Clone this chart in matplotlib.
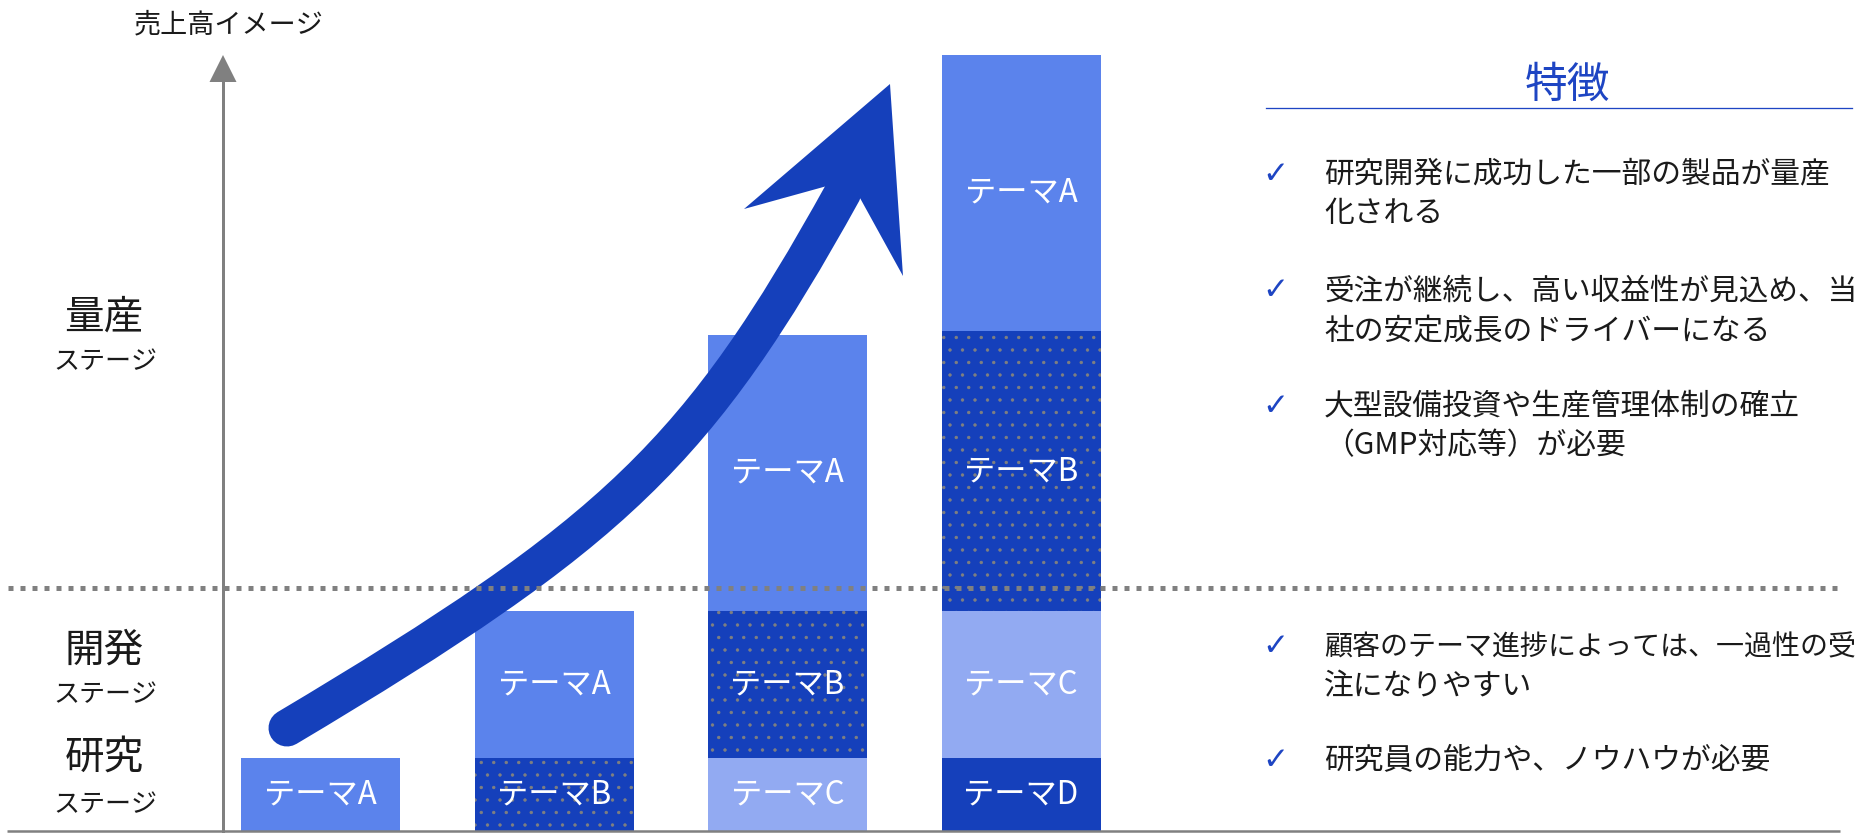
import numpy as np
import matplotlib
matplotlib.use("Agg")
import matplotlib.pyplot as plt
from matplotlib.path import Path
from matplotlib.patches import PathPatch, Polygon

plt.rcParams['font.family'] = ['Noto Sans CJK JP', 'DejaVu Sans']
plt.rcParams['hatch.linewidth'] = 0.4

# -- Data --
bar_positions = [0, 1, 2, 3]
bar_labels = [
    ["テーマA"],
    ["テーマB", "テーマA"],
    ["テーマC", "テーマB", "テーマA"],
    ["テーマD", "テーマC", "テーマB", "テーマA"],
]
bar_heights = [
    [1.0],
    [1.0, 2.0],
    [1.0, 2.0, 3.77],
    [1.0, 2.0, 3.82, 3.77],
]
stage_names = ["量産", "開発", "研究"]
stage_sub = "ステージ"
y_label = "売上高イメージ"
panel_title = "特徴"
feature_points = [
    ["研究開発に成功した一部の製品が量産", "化される"],
    ["受注が継続し、高い収益性が見込め、当", "社の安定成長のドライバーになる"],
    ["大型設備投資や生産管理体制の確立", "（GMP対応等）が必要"],
    ["顧客のテーマ進捗によっては、一過性の受", "注になりやすい"],
    ["研究員の能力や、ノウハウが必要"],
]

# -- Styles / layout --
theme_color = {"テーマA": "#5B83EC", "テーマB": "#1540BB",
               "テーマC": "#92AAF2", "テーマD": "#1540BB"}
theme_hatch = {"テーマB": ".."}
DARK = "#1540BB"
BLUE = "#1E45C3"
GRAY = "#808080"
TEXT = "#1a1a1a"

W, H, DPI = 1873, 836, 150
PX_PER_UNIT = 73.3
BASE_PX = 831
BAR0_PX, PITCH_PX, BAR_W_PX = 320.5, 233.5, 159
point_y = [174, 291, 406, 647, 760]
LINE_GAP = 40
TEXT_X, TEXT_RIGHT = 1324, 1856

fig = plt.figure(figsize=(W / DPI, H / DPI), dpi=DPI)

# bar axes, scaled so the bars land where they sit in the layout
ax = fig.add_axes([0, 0, 1, 1])
ax.set_xlim(-BAR0_PX / PITCH_PX, (W - BAR0_PX) / PITCH_PX)
ax.set_ylim(-(H - BASE_PX) / PX_PER_UNIT, BASE_PX / PX_PER_UNIT)
ax.axis("off")

for x, labels, heights in zip(bar_positions, bar_labels, bar_heights):
    bottom = 0.0
    for lab, h in zip(labels, heights):
        hatch = theme_hatch.get(lab)
        ax.bar(x, h, bottom=bottom, width=BAR_W_PX / PITCH_PX,
               color=theme_color[lab], linewidth=0,
               edgecolor=GRAY if hatch else theme_color[lab], hatch=hatch)
        ax.text(x, bottom + h / 2, lab, color="white", fontsize=15,
                ha="center", va="center")
        bottom += h

# overlay in pixel coordinates for the decorations
ov = fig.add_axes([0, 0, 1, 1], zorder=5)
ov.set_xlim(0, W)
ov.set_ylim(H, 0)
ov.patch.set_alpha(0)
ov.axis("off")

px = 72 / DPI  # points per pixel

# axes lines
ov.plot([7, 1840], [BASE_PX, BASE_PX], color=GRAY, lw=2.5 * px,
        solid_capstyle="butt")
ov.plot([223, 223], [BASE_PX, 80], color=GRAY, lw=3 * px)
ov.add_patch(Polygon([(223, 55), (209.5, 82), (236.5, 82)],
                     closed=True, color=GRAY, lw=0))
ov.plot([8, 1840], [588, 588], color=GRAY, lw=5 * px,
        linestyle=(0, (1.0, 1.4)), dash_capstyle="butt")

# growth arrow
shaft = Path([(287, 728), (616, 532), (699, 452), (843, 192)],
             [Path.MOVETO, Path.CURVE4, Path.CURVE4, Path.CURVE4])
ov.add_patch(PathPatch(shaft, fill=False, edgecolor=DARK, lw=37 * px,
                       capstyle="round"))
ov.add_patch(Polygon([(890, 84), (744, 209), (827, 186), (860, 198),
                      (903, 276)], closed=True, color=DARK, lw=0))

# labels
ov.text(229, 25, y_label, fontsize=13, color=TEXT, ha="center", va="center")
for name, (ym, ys) in zip(stage_names, [(318, 362), (651, 695), (758, 805)]):
    ov.text(104, ym, name, fontsize=19, color=TEXT, ha="center", va="center")
    ov.text(105, ys, stage_sub, fontsize=12.5, color=TEXT,
            ha="center", va="center")

# feature panel
ov.text(1567, 86, panel_title, fontsize=20.5, color=BLUE,
        ha="center", va="center")
ov.plot([1266, 1852], [107.5, 107.5], color=BLUE, lw=1.3 * px)

renderer = fig.canvas.get_renderer()
for y, lines in zip(point_y, feature_points):
    ov.text(1275, y, "✓", fontsize=15, color=BLUE, family="DejaVu Sans",
            ha="center", va="center")
    for i, line in enumerate(lines):
        t = ov.text(TEXT_X, y + i * LINE_GAP, line, fontsize=14.3,
                    color=TEXT, ha="left", va="center")
        # the original font packs punctuation tighter; shrink long lines
        width = t.get_window_extent(renderer).width
        if TEXT_X + width > TEXT_RIGHT:
            t.set_fontsize(14.3 * (TEXT_RIGHT - TEXT_X) / width)

fig.savefig("out.png", dpi=DPI)
